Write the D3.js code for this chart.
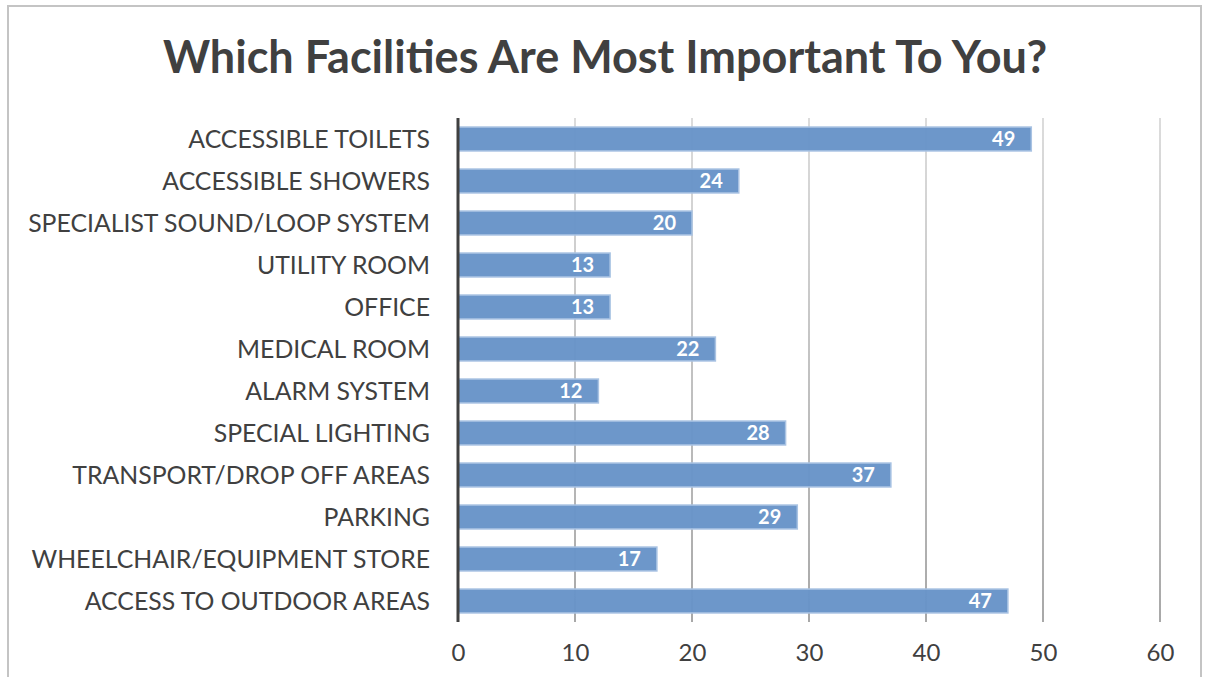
<!DOCTYPE html>
<html>
<head>
<meta charset="utf-8">
<script src="https://cdn.jsdelivr.net/npm/d3@7"></script>
<style>
  html, body { margin: 0; padding: 0; background: #fff; }
  svg { display: block; }
  text { font-family: Lato, "Open Sans", sans-serif; }
</style>
</head>
<body>
<svg id="chart" width="1206" height="677"></svg>
<script>
// Survey responses: which facilities matter most
const categories = [
  "ACCESSIBLE TOILETS",
  "ACCESSIBLE SHOWERS",
  "SPECIALIST SOUND/LOOP SYSTEM",
  "UTILITY ROOM",
  "OFFICE",
  "MEDICAL ROOM",
  "ALARM SYSTEM",
  "SPECIAL LIGHTING",
  "TRANSPORT/DROP OFF AREAS",
  "PARKING",
  "WHEELCHAIR/EQUIPMENT STORE",
  "ACCESS TO OUTDOOR AREAS"
];
const responses = [49, 24, 20, 13, 13, 22, 12, 28, 37, 29, 17, 47];
const xTicks = [0, 10, 20, 30, 40, 50, 60];
const title = "Which Facilities Are Most Important To You?";

const svg = d3.select("#chart");
const plot = { left: 458, right: 1160, top: 118, bottom: 622 };

// Chart frame
svg.append("rect")
  .attr("x", 8).attr("y", 6)
  .attr("width", 1193).attr("height", 700)
  .attr("fill", "#fff")
  .attr("stroke", "#c4c4c4").attr("stroke-width", 2);

const x = d3.scaleLinear().domain([0, 60]).range([plot.left, plot.right]);
const y = d3.scaleBand().domain(categories).range([plot.top, plot.bottom]).paddingInner(0.43).paddingOuter(0.215);

// Gridlines fade darker towards the bottom
const defs = svg.append("defs");
const grad = defs.append("linearGradient")
  .attr("id", "gridFade").attr("gradientUnits", "userSpaceOnUse")
  .attr("x1", 0).attr("y1", plot.top).attr("x2", 0).attr("y2", plot.bottom);
grad.append("stop").attr("offset", "0%").attr("stop-color", "#dcdcdc");
grad.append("stop").attr("offset", "100%").attr("stop-color", "#a8a8a8");

svg.append("g")
  .selectAll("rect")
  .data(xTicks.filter(d => d > 0))
  .join("rect")
  .attr("x", d => x(d) - 1)
  .attr("y", plot.top)
  .attr("width", 2)
  .attr("height", plot.bottom - plot.top)
  .attr("fill", "url(#gridFade)");

// Bars
svg.append("g")
  .selectAll("rect")
  .data(responses)
  .join("rect")
  .attr("x", x(0))
  .attr("y", (d, i) => y(categories[i]))
  .attr("width", d => x(d) - x(0))
  .attr("height", y.bandwidth())
  .attr("fill", "#6894c8")
  .attr("fill-opacity", 0.97)
  .attr("stroke", "#a9c3e3")
  .attr("stroke-width", 1.5);

// Value labels inside the bar end
svg.append("g")
  .selectAll("text")
  .data(responses)
  .join("text")
  .attr("x", d => x(d) - 16)
  .attr("y", (d, i) => y(categories[i]) + y.bandwidth() / 2)
  .attr("dy", "0.36em")
  .attr("text-anchor", "end")
  .attr("fill", "#fff")
  .attr("font-weight", "bold")
  .attr("font-size", 20)
  .text(d => d);

// Category axis
const yAxis = svg.append("g")
  .attr("transform", `translate(${plot.left},0)`)
  .call(d3.axisLeft(y).tickSize(0).tickPadding(28));
yAxis.select(".domain").remove();
yAxis.selectAll("text")
  .attr("font-family", "Lato, 'Open Sans', sans-serif")
  .attr("font-size", 24.8)
  .attr("fill", "#404040")
  .attr("dy", "0.36em");

// Vertical axis line
svg.append("line")
  .attr("x1", x(0)).attr("x2", x(0))
  .attr("y1", plot.top).attr("y2", plot.bottom)
  .attr("stroke", "#404040").attr("stroke-width", 3);

// Value axis
const xAxis = svg.append("g")
  .attr("transform", `translate(0,${plot.bottom})`)
  .call(d3.axisBottom(x).tickValues(xTicks).tickSize(0).tickPadding(22));
xAxis.select(".domain").remove();
xAxis.selectAll("text")
  .attr("font-family", "Lato, 'Open Sans', sans-serif")
  .attr("font-size", 24)
  .attr("fill", "#404040");

// Title
svg.append("text")
  .attr("x", 605).attr("y", 73)
  .attr("text-anchor", "middle")
  .attr("font-weight", "bold")
  .attr("font-size", 45)
  .attr("fill", "#404040")
  .text(title);
</script>
</body>
</html>
